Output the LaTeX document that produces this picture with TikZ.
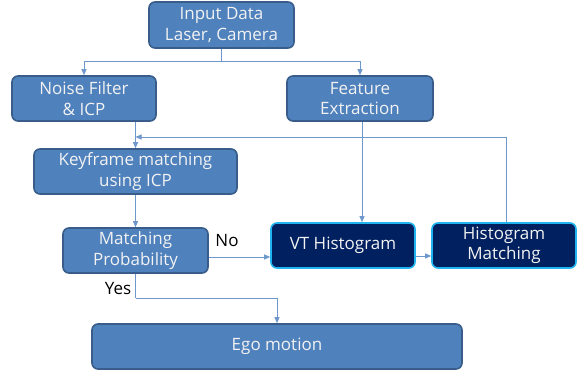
\documentclass[tikz,border=0pt]{standalone}
\usepackage{fontspec}
\setmainfont{Open Sans}
\usetikzlibrary{arrows.meta}
\definecolor{boxblue}{HTML}{4F81BD}
\definecolor{boxedge}{HTML}{385D8A}
\definecolor{navy}{HTML}{002060}
\definecolor{cyanedge}{HTML}{1FB4F0}
\definecolor{linkblue}{HTML}{6E97CB}
\definecolor{boxtext}{HTML}{F2F2F2}
\tikzset{
  proc/.style={draw=boxedge, line width=1.6pt, fill=boxblue, rounded corners=6pt,
    text=boxtext, align=center, inner sep=0pt, font=\fontsize{17}{20.5}\selectfont},
  darkproc/.style={proc, draw=cyanedge, fill=navy},
  link/.style={draw=linkblue, line width=0.9pt, -{Triangle[length=6pt,width=5pt]}},
  plain/.style={draw=linkblue, line width=0.9pt},
  tag/.style={font=\fontsize{17}{20}\selectfont, text=black, inner sep=0pt}
}
\begin{document}
\begin{tikzpicture}[x=1pt,y=-1pt]
\useasboundingbox (0,0) rectangle (582,371);
% process boxes
\node[proc, minimum width=145pt, minimum height=46pt] (input) at (221.5,25) {Input Data\\Laser, Camera};
\node[proc, minimum width=144pt, minimum height=45pt] (noise) at (84,98.5) {Noise Filter\\\& ICP};
\node[proc, minimum width=146pt, minimum height=45pt] (feat) at (360,98.5) {Feature\\Extraction};
\node[proc, minimum width=203pt, minimum height=45pt] (key) at (135.5,171.5) {Keyframe matching\\using ICP};
\node[proc, minimum width=145pt, minimum height=45pt] (prob) at (135.5,250.5) {Matching\\Probability};
\node[darkproc, minimum width=144pt, minimum height=45pt] (vt) at (343,245.5) {VT Histogram};
\node[darkproc, minimum width=144pt, minimum height=45pt] (hm) at (504,245.5) {Histogram\\Matching};
\node[proc, minimum width=370pt, minimum height=45pt] (ego) at (277,346.5) {Ego motion};
% junction points
\coordinate (split) at (221.5,61);
\coordinate (loop) at (135.5,137);
\coordinate (yes) at (135.5,298);
% connectors
\draw[plain] (input.south) -- (split);
\draw[link] (split) -| (noise.north);
\draw[link] (split) -| (feat.north);
\draw[link] (noise.south -| key.north) -- (key.north);
\draw[link] (key.south) -- (prob.north);
\draw[link] (feat.south -| 362,0) -- (vt.north -| 362,0);
\draw[link] (prob.east |- 0,257) -- (vt.west |- 0,257);
\draw[link] (vt.east |- 0,256) -- (hm.west |- 0,256);
\draw[link] (hm.north -| 506,0) |- (loop);
\draw[plain] (prob.south) -- (yes);
\draw[link] (yes) -| (ego.north);
% branch labels
\node[tag] (no) at (227,241) {No};
\node[tag] (yeslbl) at (118,289) {Yes};
\end{tikzpicture}
\end{document}
